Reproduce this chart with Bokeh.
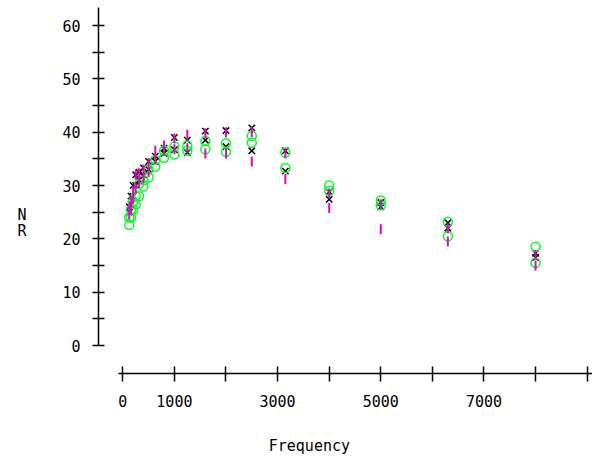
import math
from bokeh.plotting import figure
from bokeh.models import FixedTicker, ColumnDataSource
from bokeh.embed import file_html
from bokeh.resources import INLINE

# Third-octave frequencies (two measurements per frequency for each series)
freqs = [125, 160, 200, 250, 315, 400, 500, 630, 800, 1000, 1250, 1600,
         2000, 2500, 3150, 4000, 5000, 6300, 8000]

black_a = [26.0, 28.0, 30.0, 32.0, 32.5, 33.3, 34.5, 35.5, 37.0, 39.0, 38.5, 40.2,
           40.3, 40.8, 36.5, 28.8, 26.8, 23.0, 17.3]
black_b = [25.0, 26.5, 28.0, 30.0, 31.0, 32.0, 33.0, 34.5, 36.0, 36.7, 36.2, 38.5,
           37.3, 36.5, 32.7, 27.4, 26.0, 22.0, 16.5]

green_a = [24.0, 25.5, 27.0, 28.0, 30.3, 31.0, 33.0, 34.8, 36.5, 37.3, 37.5, 38.3,
           37.9, 39.3, 36.2, 30.0, 27.2, 23.2, 18.5]
green_b = [22.6, 24.0, 25.5, 26.5, 28.0, 29.8, 31.5, 33.5, 35.2, 35.8, 36.5, 36.8,
           36.3, 38.0, 33.3, 29.0, 26.3, 20.5, 15.5]

magenta_a = [25.7, 27.0, 29.0, 32.0, 32.3, 33.0, 34.2, 36.5, 37.5, 38.8, 39.5, 39.8,
             40.0, 40.0, 36.0, 28.5, 26.5, 22.0, 17.0]
magenta_b = [24.5, 25.5, 27.5, 29.5, 30.5, 31.3, 32.5, 35.0, 36.5, 36.8, 37.0, 36.0,
             36.0, 34.5, 31.2, 25.8, 21.8, 19.5, 15.0]

x_ticks = [0, 1000, 2000, 3000, 4000, 5000, 6000, 7000, 8000, 9000]
x_tick_labels = {0: "0", 1000: "1000", 2000: "", 3000: "3000", 4000: "",
                 5000: "5000", 6000: "", 7000: "7000", 8000: "", 9000: ""}
y_ticks = [0, 10, 20, 30, 40, 50, 60]
y_minor = [5, 15, 25, 35, 45, 55]

FONT = "DejaVu Sans Mono"
FSIZE = "15px"

p = figure(width=592, height=461, output_backend="svg", toolbar_location=None,
           x_range=(-471, 9103), y_range=(-5.25, 63.375),
           min_border_left=98, min_border_right=0, min_border_top=7,
           min_border_bottom=88)
p.outline_line_color = None
p.grid.visible = False
p.background_fill_color = "white"

xs = freqs + freqs
src_k = ColumnDataSource(dict(x=xs, y=black_a + black_b))
src_g = ColumnDataSource(dict(x=xs, y=green_a + green_b))
src_m = ColumnDataSource(dict(x=xs, y=magenta_a + magenta_b))

p.scatter("x", "y", source=src_k, marker="x", size=9, line_color="black", line_width=1.5)
p.scatter("x", "y", source=src_g, marker="circle", size=9, fill_color=None,
          line_color="#00ff22", line_width=1.5)
p.scatter("x", "y", source=src_m, marker="dash", angle=math.pi / 2, size=10,
          line_color="#ee00cc", line_width=2)

# x axis
xa = p.xaxis[0]
xa.ticker = FixedTicker(ticks=x_ticks)
xa.major_label_overrides = dict(x_tick_labels)
xa.bounds = (-93, 9103)
xa.axis_line_color = "black"
xa.axis_line_width = 1.5
xa.major_tick_in = 7
xa.major_tick_out = 8
xa.major_tick_line_width = 1.5
xa.minor_tick_line_color = None
xa.major_label_standoff = 13
xa.major_label_text_font = FONT
xa.major_label_text_font_size = FSIZE
xa.major_label_text_color = "black"
xa.axis_label = "Frequency" + "\u00a0" * 8
xa.axis_label_standoff = 27
xa.axis_label_text_font = FONT
xa.axis_label_text_font_size = FSIZE
xa.axis_label_text_font_style = "normal"
xa.axis_label_text_color = "black"

# y axis
ya = p.yaxis[0]
ya.ticker = FixedTicker(ticks=y_ticks, minor_ticks=y_minor)
ya.bounds = (0, 64)
ya.axis_line_width = 1.5
ya.major_tick_in = 6
ya.major_tick_out = 6
ya.minor_tick_in = 6
ya.minor_tick_out = 6
ya.major_tick_line_width = 1.5
ya.minor_tick_line_width = 1.5
ya.minor_tick_line_color = "black"
ya.major_label_standoff = 12
ya.major_label_text_font = FONT
ya.major_label_text_font_size = FSIZE
ya.major_label_text_color = "black"
ya.axis_label = "\n\n\n\nN\nR"
ya.axis_label_orientation = "horizontal"
ya.axis_label_standoff = 33
ya.axis_label_text_font = FONT
ya.axis_label_text_font_size = FSIZE
ya.axis_label_text_font_style = "normal"
ya.axis_label_text_color = "black"
ya.axis_label_text_line_height = 0.9

open("out.html", "w").write(file_html(p, INLINE))
